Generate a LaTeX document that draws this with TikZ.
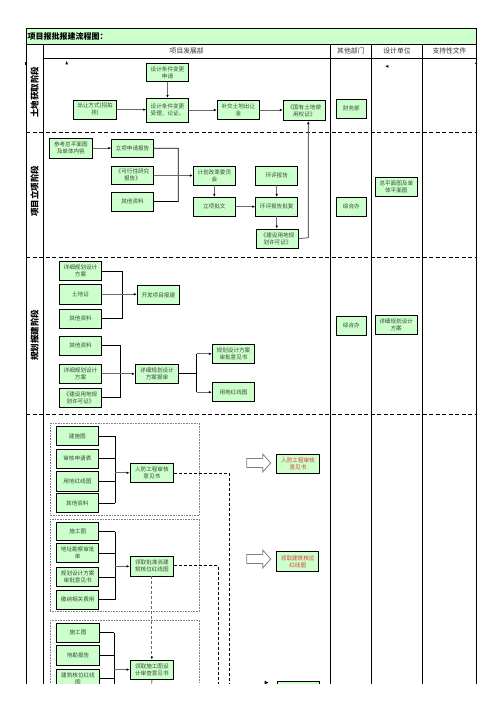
\documentclass[tikz,border=0pt]{standalone}
\usepackage{fontspec}
\setmainfont{Noto Sans CJK SC}
\usetikzlibrary{arrows.meta}
\definecolor{boxg}{RGB}{204,255,204}
\definecolor{txt}{RGB}{55,75,55}
\definecolor{redt}{RGB}{225,60,60}
\definecolor{conn}{RGB}{105,105,105}
\tikzset{
  gbox/.style={draw=black, line width=0.9pt, fill=boxg, inner sep=0pt, align=center,
    font=\fontsize{5.6}{7}\selectfont, text=txt},
  grid/.style={draw=black, line width=0.8pt},
  sep/.style={draw=black, line width=0.8pt, dash pattern=on 4pt off 2.5pt},
  hdr/.style={font=\fontsize{6.8}{8}\selectfont, text=black!80, inner sep=0pt},
  stagelbl/.style={font=\fontsize{8.5}{9}\selectfont\bfseries, rotate=90, inner sep=0pt},
  conarrow/.style={draw=conn, line width=0.8pt, -{Latex[length=3pt,width=2.6pt,color=black]}},
  bracket/.style={draw=black, line width=0.8pt},
  grp/.style={draw=gray, line width=0.6pt, densely dotted},
  dline/.style={draw=black, line width=0.7pt, dash pattern=on 3pt off 2pt},
  hollow/.style={draw=gray, line width=0.8pt, fill=white}
}
\newcommand\mybx[7][]{\node[gbox,#1,minimum width={#4pt-#2pt},minimum height={#5pt-#3pt}] (#6) at ({(#2+#4)/2},{(#3+#5)/2}) {#7};}
\begin{document}
\begin{tikzpicture}[x=1pt,y=-1pt]
\useasboundingbox (0,0) rectangle (503,711);
\fill[white] (0,0) rectangle (503,711);
\begin{scope}
\clip (0,0) rectangle (503,683);
% ---------- frame ----------
\draw[grid, fill=boxg] (26,28.3) rectangle (476.7,44.3);
\node[anchor=west, inner sep=0pt, font=\fontsize{8}{9}\selectfont\bfseries] (title) at (27.3,36.4) {项目报批报建流程图：};
\draw[grid] (26,44.3) -- (26,711);
\draw[grid] (476.7,44.3) -- (476.7,711);
\foreach \xx in {43.3,330,371.7,422.3} {\draw[grid] (\xx,44.3) -- (\xx,711);}
\draw[grid] (43.3,58.3) -- (476.7,58.3);
\foreach \yy in {132,257.7,414} {\draw[sep] (26,\yy) -- (476.7,\yy);}
\node[hdr] (h1) at (186.7,51.3) {项目发展部};
\node[hdr] (h2) at (350.8,51.3) {其他部门};
\node[hdr] (h3) at (397,51.3) {设计单位};
\node[hdr] (h4) at (449.5,51.3) {支持性文件};
\node[stagelbl] (s1) at (34.7,92.5) {土地获取阶段};
\node[stagelbl] (s2) at (34.7,191.5) {项目立项阶段};
\node[stagelbl] (s3) at (34.7,335) {规划报建阶段};
% small stray marks
\fill (24.8,62) rectangle (26,65);
\fill (66.7,61) -- (65.4,64.3) -- (68,64.3) -- cycle;
\fill (385.3,66) -- (388.3,65.2) -- (388.3,67.8) -- cycle;
\fill (476.7,61.8) -- (474.9,63.2) -- (476.7,64.6) -- cycle;
% ---------- stage 1 ----------
\mybx{146.7}{63.3}{188.3}{81.7}{a1}{设计条件变更\\申请}
\mybx{73.3}{100}{116.7}{119.3}{a2}{出让方式(招拍\\挂)}
\mybx{146.7}{98.3}{188.3}{122.3}{a3}{设计条件变更\\受理，论证。}
\mybx{217.3}{100.7}{259.3}{119.3}{a4}{补交土地出让\\金}
\mybx{283.3}{100.7}{325.3}{120.7}{a5}{《国有土地使\\用权证》}
\mybx{336}{99.3}{366.7}{118.3}{a6}{财务部}
\draw[conarrow] (a1.south) -- (a3.north);
\draw[conarrow] (a2.east) -- (a2.east -| a3.west);
\draw[conarrow] (a3.east |- a4.west) -- (a4.west);
\draw[conarrow] (a4.east) -- (a4.east -| a5.west);
% ---------- stage 2 ----------
\mybx{49.3}{138.3}{92.3}{158.3}{b1}{参考总平面图\\及单体内容}
\mybx{111.7}{139}{153.3}{157.3}{b2}{立项申请报告}
\mybx{111.7}{166}{153.3}{184}{b3}{《可行性研究\\报告》}
\mybx{111.7}{192}{153.3}{211}{b4}{其他资料}
\mybx{193.3}{166.7}{235.3}{185}{b5}{计划改革委员\\会}
\mybx{193.3}{197.3}{235.3}{216}{b6}{立项批文}
\mybx{255.7}{166}{297.7}{185}{b7}{环评报告}
\mybx{255.7}{197.3}{297.7}{216}{b8}{环评报告批复}
\mybx{256.7}{229}{298.3}{248.3}{b9}{《建设用地规\\划许可证》}
\mybx{336.3}{197.3}{366.3}{216}{b10}{综合办}
\mybx{375.3}{177.3}{417.3}{196}{b11}{总平面图及单\\体平面图}
\coordinate (bk2) at (178.3,148.2);
\draw[conarrow] (b1.east |- b2.west) -- (b2.west);
\draw[bracket] (b2.east) -- (bk2) -- (bk2 |- b4.east) -- (b4.east);
\draw[conarrow] (b3.east |- 153.3,175.5) -- (b5.west |- 153.3,175.5);
\draw[conarrow] (b5.south) -- (b6.north);
\draw[conarrow] (b6.east) -- (b8.west);
\draw[conarrow] (b7.south) -- (b8.north);
\draw[conarrow] (b8.south) -- (b8.south |- b9.north);
\coordinate (bup) at (308.3,237.7);
\draw[draw=conn, line width=0.9pt, -{Latex[length=3pt,width=2.6pt,color=black]}] (b9.east) -- (bup) -- (bup |- a5.south);
% ---------- stage 3 ----------
\mybx{59.3}{261.7}{101.7}{280.7}{c1}{详细规划设计\\方案}
\mybx{59.3}{284.3}{101.7}{304.3}{c2}{土地证}
\mybx{59.3}{309.3}{101.7}{328.3}{c3}{其他资料}
\mybx{137.3}{285.7}{179.3}{304.3}{c4}{开发项目报建}
\mybx{59.3}{336}{101.7}{355}{c5}{其他资料}
\mybx{59.3}{364.3}{101.7}{383.3}{c6}{详细规划设计\\方案}
\mybx{59.3}{388.3}{101.7}{407.3}{c7}{《建设用地规\\划许可证》}
\mybx{135.3}{364.3}{178.7}{383.3}{c8}{详细规划设计\\方案报审}
\mybx{212.3}{344.3}{254.7}{363.3}{c9}{规划设计方案\\审批意见书}
\mybx{212.3}{382.7}{254.7}{401.7}{c10}{用地红线图}
\mybx{336.3}{316.3}{366.3}{335.3}{c11}{综合办}
\mybx{375}{315.3}{417.3}{334.3}{c12}{详细规划设计\\方案}
\coordinate (bk3a) at (122.3,271.2);
\draw[bracket] (c1.east) -- (bk3a) -- (bk3a |- c3.east) -- (c3.east);
\draw[conarrow] (c2.east) -- (c2.east -| c4.west);
\coordinate (bk3b) at (120,345.5);
\draw[bracket] (c5.east) -- (bk3b) -- (bk3b |- c7.east) -- (c7.east);
\draw[conarrow] (c6.east) -- (c8.west);
\coordinate (sp) at (196.7,373.8);
\draw[bracket] (c8.east) -- (sp);
\draw[bracket] (sp |- c9.west) -- (sp |- c10.west);
\draw[conarrow] (sp |- c9.west) -- (c9.west);
\draw[conarrow] (sp |- c10.west) -- (c10.west);
% ---------- stage 4 ----------
\draw[grp] (50,423.3) rectangle (199.3,515);
\draw[grp] (50,519) rectangle (199.3,611.7);
\draw[grp] (50,620) rectangle (199.3,711);
\mybx{56}{426.7}{98.7}{445.7}{d1}{建施图}
\mybx{56}{449.3}{98.7}{468.3}{d2}{审核申请表}
\mybx{56}{471.7}{98.7}{491}{d3}{用地红线图}
\mybx{56}{493.7}{98.7}{512.7}{d4}{其他资料}
\mybx{130}{463.3}{173.7}{482.3}{d5}{人防工程审核\\意见书}
\mybx[text=redt]{276.7}{454.3}{319.3}{473.3}{d6}{人防工程审核\\意见书}
\coordinate (bk4a) at (115,436.2);
\foreach \n in {d1,d2,d3,d4} {\draw[bracket] (\n.east) -- (\n.east -| bk4a);}
\draw[bracket] (bk4a) -- (bk4a |- d4.east);
\draw[conarrow] (bk4a |- d5.west) -- (d5.west);
\mybx{56.7}{522.3}{98.7}{540.7}{e1}{施工图}
\mybx{56.7}{543.3}{98.7}{562.7}{e2}{地址勘察审批\\单}
\mybx{56.7}{567.3}{98.7}{586.7}{e3}{规划设计方案\\审批意见书}
\mybx{56.7}{590}{98.7}{609.3}{e4}{缴纳相关费用}
\mybx{130}{556.7}{173.7}{576}{e5}{领取批准消建\\筑核位红线图}
\mybx[text=redt]{276.7}{551.7}{318.7}{571.7}{e6}{领取建筑核位\\红线图}
\coordinate (bk4b) at (115,531.5);
\foreach \n in {e1,e2,e3,e4} {\draw[bracket] (\n.east) -- (\n.east -| bk4b);}
\draw[bracket] (bk4b) -- (bk4b |- e4.east);
\draw[conarrow] (bk4b |- e5.west) -- (e5.west);
\mybx{56.7}{623.3}{99.3}{642.3}{f1}{施工图}
\mybx{56.7}{645.7}{99.3}{665}{f2}{地勘报告}
\mybx{56.7}{669.3}{99.3}{688.3}{f3}{建筑核位红线\\图}
\mybx{130}{660}{173.7}{679.3}{f4}{领取施工图设\\计审查意见书}
\mybx{277.3}{681.7}{319.3}{700.7}{f5}{}
\coordinate (bk4c) at (114.3,632.8);
\foreach \n in {f1,f2,f3} {\draw[bracket] (\n.east) -- (\n.east -| bk4c);}
\draw[bracket] (bk4c) -- (114.3,711);
\draw[conarrow] (114.3,669.6) -- (f4.west |- 114.3,669.6);
\draw[draw=conn, line width=0.8pt] (f4.south) -- (151.8,711);
% dashed routes
\coordinate (dr1) at (229.3,473.3);
\draw[dline] (d5.east |- dr1) -- (dr1) -- (229.3,711);
\coordinate (dr2) at (218.3,565.7);
\draw[dline] (e5.east |- dr2) -- (dr2) -- (218.3,711);
\draw[draw=gray!80!black, line width=0.7pt, dash pattern=on 3pt off 2pt, -{Latex[length=3pt,width=2.6pt,color=black]}] (e5.south -| 151.8,0) -- (f4.north -| 151.8,0);
\fill (264.5,680.6) -- (268.3,682.6) -- (264.5,684.6) -- cycle;
% hollow block arrows
\draw[hollow] (246.7,458.5) -- (262.7,458.5) -- (262.7,454) -- (270.7,463) -- (262.7,472) -- (262.7,467.5) -- (246.7,467.5) -- cycle;
\draw[hollow] (246.7,554.5) -- (262.7,554.5) -- (262.7,550) -- (270.7,559) -- (262.7,568) -- (262.7,563.5) -- (246.7,563.5) -- cycle;
\end{scope}
\end{tikzpicture}
\end{document}
